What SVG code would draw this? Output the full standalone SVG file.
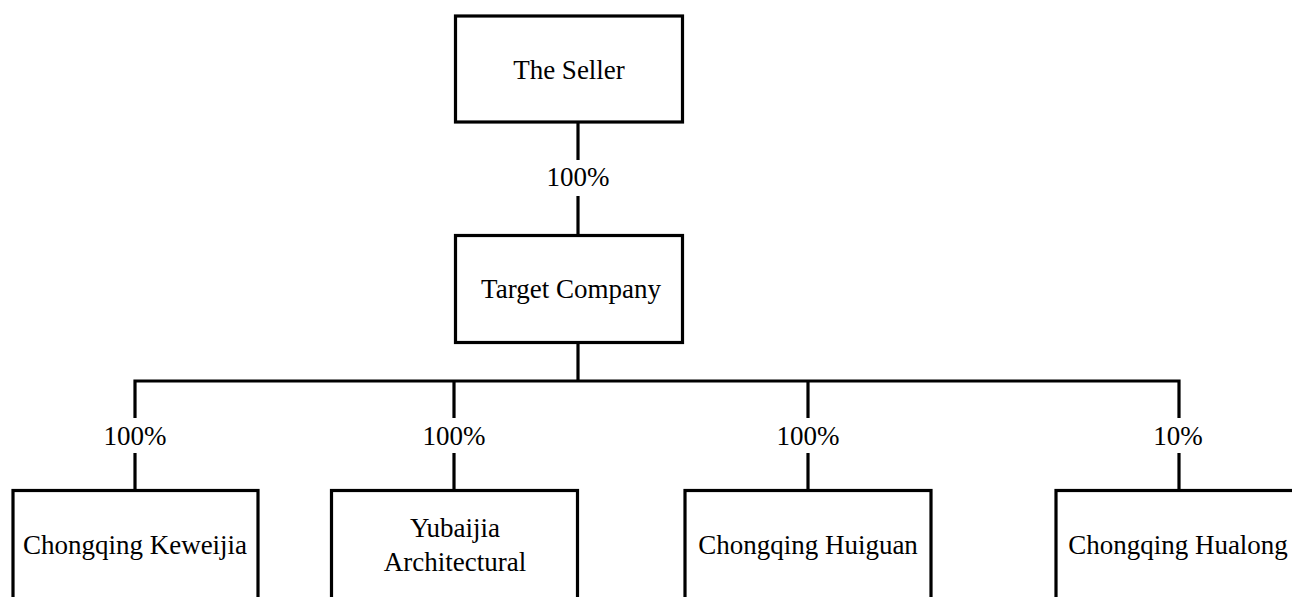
<svg xmlns="http://www.w3.org/2000/svg" width="1292" height="597" viewBox="0 0 1292 597">
<style>
.box{fill:#fff;stroke:#000;stroke-width:3.2}
.ln{stroke:#000;stroke-width:3.2;fill:none}
text{font-family:"Liberation Serif","Times New Roman",serif;font-size:27px;fill:#000;text-anchor:middle}
</style>
<rect width="1292" height="597" fill="#fff"/>
<g id="connectors">
<line class="ln" x1="578" y1="122" x2="578" y2="160"/>
<line class="ln" x1="578" y1="196" x2="578" y2="235"/>
<line class="ln" x1="578" y1="343" x2="578" y2="381"/>
<polyline class="ln" points="135,418 135,381 1179,381 1179,418"/>
<line class="ln" x1="454" y1="381" x2="454" y2="418"/>
<line class="ln" x1="808" y1="381" x2="808" y2="418"/>
<line class="ln" x1="135" y1="453" x2="135" y2="490"/>
<line class="ln" x1="454" y1="453" x2="454" y2="490"/>
<line class="ln" x1="808" y1="453" x2="808" y2="490"/>
<line class="ln" x1="1179" y1="453" x2="1179" y2="490"/>
<text x="578" y="186">100%</text>
<text x="135" y="445">100%</text>
<text x="454" y="445">100%</text>
<text x="808" y="445">100%</text>
<text x="1178" y="445">10%</text>
</g>
<g id="seller">
<rect class="box" x="455.5" y="16" width="227" height="106"/>
<text x="569" y="79">The Seller</text>
</g>
<g id="target">
<rect class="box" x="455.5" y="235.5" width="227" height="107"/>
<text x="571" y="298">Target Company</text>
</g>
<g id="keweijia">
<rect class="box" x="13" y="490.5" width="245" height="140"/>
<text x="135" y="554">Chongqing Keweijia</text>
</g>
<g id="yubaijia">
<rect class="box" x="331.5" y="490.5" width="246" height="140"/>
<text x="455" y="537">Yubaijia</text>
<text x="455" y="571">Architectural</text>
</g>
<g id="huiguan">
<rect class="box" x="685" y="490.5" width="246" height="140"/>
<text x="808" y="554">Chongqing Huiguan</text>
</g>
<g id="hualong">
<rect class="box" x="1056" y="490.5" width="260" height="140"/>
<text x="1178" y="554">Chongqing Hualong</text>
</g>
</svg>
